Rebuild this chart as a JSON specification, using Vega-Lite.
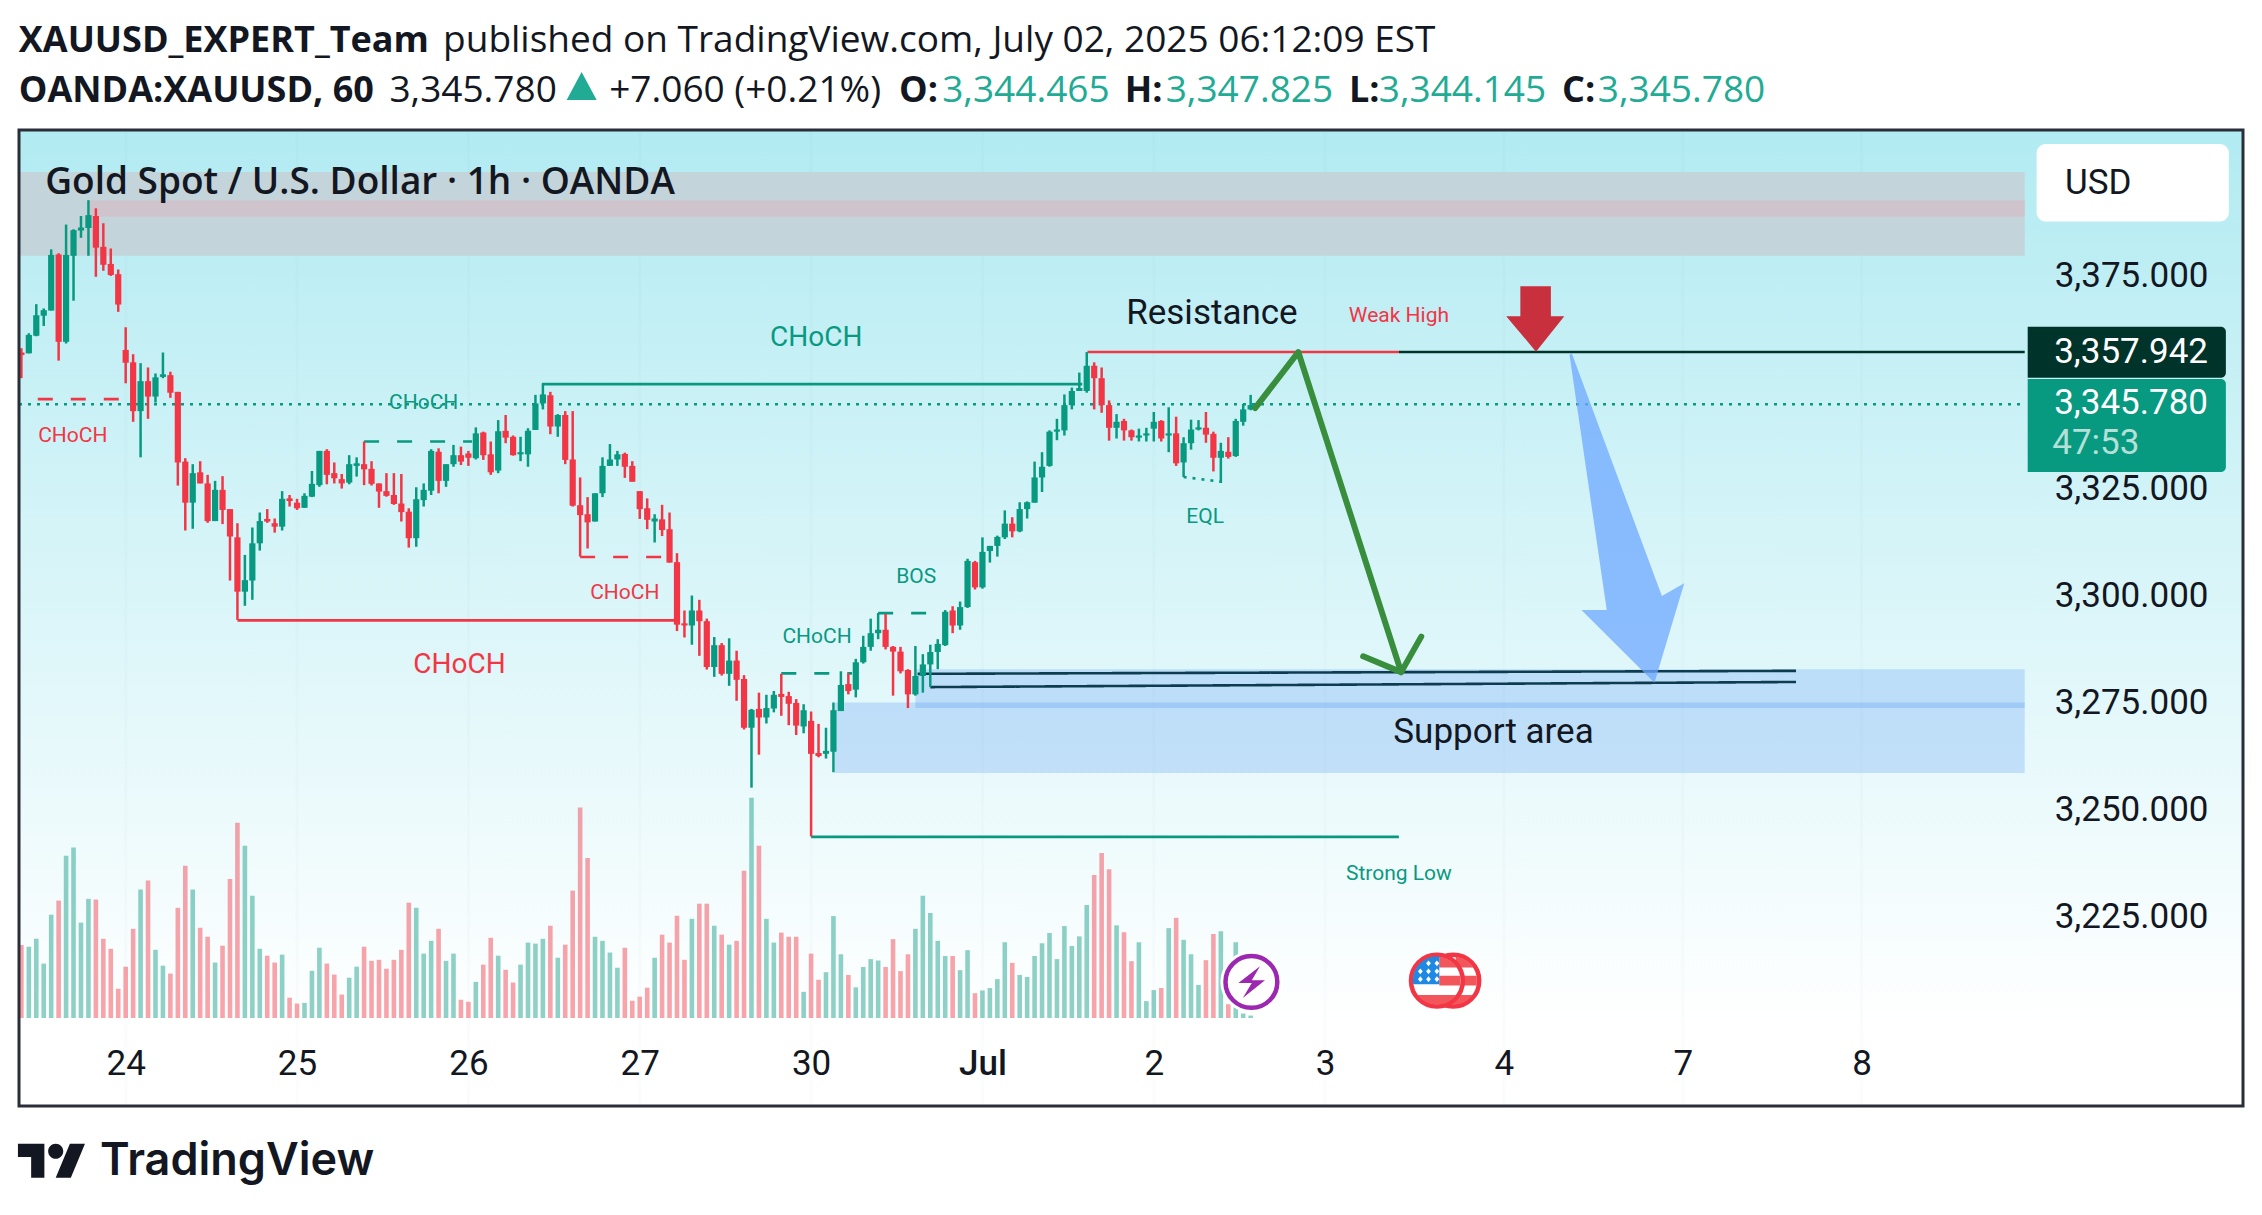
{"$schema":"https://vega.github.io/schema/vega-lite/v6.json","width":2224,"height":976,"autosize":{"type":"none"},"padding":{"left":19,"top":130,"right":19,"bottom":109},"background":"#ffffff","config":{"view":{"stroke":null},"scale":{"continuousPadding":0}},
"datasets":{
"pane":[{"a":-0.32,"b":298.2,"lo":3180.8,"hi":3408.9}],
"days":[{"i":14},{"i":37},{"i":60},{"i":83},{"i":106},{"i":129},{"i":152},{"i":175},{"i":199},{"i":223},{"i":247}],
"zones":[{"z":"gray","a":-0.32,"b":268.9,"lo":3379.5,"hi":3399.1},{"z":"pink","a":9.1,"b":268.9,"lo":3388.6,"hi":3392.5}],
"support":[{"a":109.2,"b":268.9,"lo":3258.6,"hi":3275.1},{"a":120,"b":268.9,"lo":3273.8,"hi":3282.9}],
"segs":[{"s":"greenSolid","a":69.9,"b":142.4,"p":3349.5,"q":3349.5},{"s":"greenSolid","a":106,"b":184.9,"p":3243.7,"q":3243.7},{"s":"greenDash","a":46,"b":60.5,"p":3336.1,"q":3336.1},{"s":"greenDash","a":102,"b":111.5,"p":3281.9,"q":3281.9},{"s":"greenDash","a":115,"b":124,"p":3296,"q":3296},{"s":"greenDot","a":156,"b":161,"p":3327.8,"q":3326.7},{"s":"greenDot","a":-0.32,"b":268.9,"p":3344.8,"q":3344.8},{"s":"redSolid","a":29,"b":88,"p":3294.3,"q":3294.3},{"s":"redSolid","a":143.1,"b":184.9,"p":3357.0,"q":3357.0},{"s":"redDash","a":2.2,"b":14,"p":3346,"q":3346},{"s":"redDash","a":75,"b":86.5,"p":3309.1,"q":3309.1},{"s":"black","a":184.9,"b":268.9,"p":3357.0,"q":3357.0},{"s":"navy","a":120.3,"b":238.2,"p":3281.8,"q":3282.5},{"s":"navy","a":122,"b":238.2,"p":3278.7,"q":3279.9}],
"bars":[
{"i":0,"d":"down","o":3356.9,"h":3357.9,"l":3350.9,"c":3356.3,"v":212},{"i":1,"d":"up","o":3356.7,"h":3361.4,"l":3356.7,"c":3361.0,"v":207},{"i":2,"d":"up","o":3360.8,"h":3368.2,"l":3360.7,"c":3365.6,"v":230},{"i":3,"d":"up","o":3365.5,"h":3367.2,"l":3363.1,"c":3366.8,"v":158},{"i":4,"d":"up","o":3366.7,"h":3381.0,"l":3366.7,"c":3379.7,"v":300},{"i":5,"d":"down","o":3379.8,"h":3380.1,"l":3355.0,"c":3359.4,"v":341},{"i":6,"d":"up","o":3359.4,"h":3386.8,"l":3359.0,"c":3379.7,"v":471},{"i":7,"d":"up","o":3379.5,"h":3385.7,"l":3369.0,"c":3385.5,"v":495},{"i":8,"d":"up","o":3385.4,"h":3388.8,"l":3383.7,"c":3386.1,"v":277},{"i":9,"d":"up","o":3386.0,"h":3392.5,"l":3379.5,"c":3389.0,"v":346},
{"i":10,"d":"down","o":3388.8,"h":3390.6,"l":3374.6,"c":3381.4,"v":344},{"i":11,"d":"down","o":3381.6,"h":3387.1,"l":3376.0,"c":3377.4,"v":230},{"i":12,"d":"down","o":3377.6,"h":3381.2,"l":3374.8,"c":3375.0,"v":201},{"i":13,"d":"down","o":3375.2,"h":3376.3,"l":3366.4,"c":3368.1,"v":85},{"i":14,"d":"down","o":3357.5,"h":3362.8,"l":3349.7,"c":3354.5,"v":149},{"i":15,"d":"down","o":3354.6,"h":3356.5,"l":3340.7,"c":3343.2,"v":259},{"i":16,"d":"up","o":3343.2,"h":3354.4,"l":3332.4,"c":3350.2,"v":373},{"i":17,"d":"down","o":3350.2,"h":3353.4,"l":3341.4,"c":3346.6,"v":399},{"i":18,"d":"up","o":3346.6,"h":3352.0,"l":3345.2,"c":3351.1,"v":198},{"i":19,"d":"up","o":3351.2,"h":3356.9,"l":3350.9,"c":3351.8,"v":152},
{"i":20,"d":"down","o":3351.6,"h":3352.4,"l":3346.3,"c":3347.5,"v":129},{"i":21,"d":"down","o":3347.7,"h":3347.7,"l":3325.8,"c":3331.2,"v":320},{"i":22,"d":"down","o":3331.4,"h":3332.2,"l":3315.3,"c":3321.8,"v":442},{"i":23,"d":"up","o":3321.8,"h":3330.8,"l":3315.7,"c":3328.7,"v":373},{"i":24,"d":"down","o":3328.9,"h":3331.5,"l":3326.3,"c":3326.3,"v":262},{"i":25,"d":"down","o":3326.3,"h":3328.3,"l":3317.1,"c":3317.5,"v":236},{"i":26,"d":"up","o":3317.5,"h":3326.9,"l":3317.5,"c":3324.8,"v":161},{"i":27,"d":"down","o":3324.8,"h":3328.0,"l":3316.8,"c":3320.1,"v":210},{"i":28,"d":"down","o":3320.3,"h":3320.3,"l":3303.6,"c":3313.9,"v":404},{"i":29,"d":"down","o":3313.7,"h":3317.0,"l":3294.4,"c":3301.0,"v":567},
{"i":30,"d":"up","o":3301.0,"h":3309.6,"l":3297.7,"c":3303.7,"v":500},{"i":31,"d":"up","o":3303.6,"h":3316.0,"l":3299.1,"c":3312.3,"v":355},{"i":32,"d":"up","o":3312.3,"h":3319.5,"l":3310.6,"c":3317.5,"v":201},{"i":33,"d":"down","o":3318.0,"h":3320.3,"l":3317.1,"c":3317.4,"v":181},{"i":34,"d":"down","o":3317.0,"h":3318.1,"l":3314.8,"c":3316.2,"v":161},{"i":35,"d":"up","o":3316.2,"h":3324.5,"l":3315.3,"c":3322.7,"v":184},{"i":36,"d":"down","o":3322.8,"h":3323.6,"l":3320.9,"c":3322.2,"v":59},{"i":37,"d":"down","o":3321.8,"h":3322.7,"l":3320.1,"c":3320.5,"v":42},{"i":38,"d":"up","o":3320.6,"h":3324.0,"l":3320.6,"c":3323.4,"v":44},{"i":39,"d":"up","o":3323.2,"h":3329.2,"l":3323.1,"c":3326.2,"v":137},
{"i":40,"d":"up","o":3325.9,"h":3333.9,"l":3325.5,"c":3333.9,"v":204},{"i":41,"d":"down","o":3333.9,"h":3334.3,"l":3326.1,"c":3328.3,"v":158},{"i":42,"d":"down","o":3328.7,"h":3331.2,"l":3326.3,"c":3327.5,"v":126},{"i":43,"d":"down","o":3327.3,"h":3328.5,"l":3325.1,"c":3326.3,"v":68},{"i":44,"d":"up","o":3326.5,"h":3332.9,"l":3326.1,"c":3330.8,"v":117},{"i":45,"d":"up","o":3330.4,"h":3332.4,"l":3327.9,"c":3331.0,"v":149},{"i":46,"d":"down","o":3330.8,"h":3336.1,"l":3325.9,"c":3329.6,"v":207},{"i":47,"d":"down","o":3329.7,"h":3331.5,"l":3325.8,"c":3326.2,"v":166},{"i":48,"d":"down","o":3326.3,"h":3326.3,"l":3320.6,"c":3324.4,"v":169},{"i":49,"d":"down","o":3324.5,"h":3328.7,"l":3323.2,"c":3323.4,"v":143},
{"i":50,"d":"down","o":3323.6,"h":3328.7,"l":3321.3,"c":3321.5,"v":169},{"i":51,"d":"down","o":3321.6,"h":3328.5,"l":3317.4,"c":3319.6,"v":198},{"i":52,"d":"down","o":3319.7,"h":3320.5,"l":3311.3,"c":3313.5,"v":335},{"i":53,"d":"up","o":3313.5,"h":3325.4,"l":3311.5,"c":3322.6,"v":320},{"i":54,"d":"up","o":3322.4,"h":3326.3,"l":3320.9,"c":3324.8,"v":187},{"i":55,"d":"up","o":3324.6,"h":3334.3,"l":3323.6,"c":3333.9,"v":224},{"i":56,"d":"down","o":3333.7,"h":3334.5,"l":3324.0,"c":3326.9,"v":259},{"i":57,"d":"up","o":3326.9,"h":3330.8,"l":3325.5,"c":3330.8,"v":166},{"i":58,"d":"up","o":3330.8,"h":3335.3,"l":3330.2,"c":3332.9,"v":187},{"i":59,"d":"down","o":3332.9,"h":3334.9,"l":3330.6,"c":3331.4,"v":53},
{"i":60,"d":"down","o":3333.3,"h":3333.9,"l":3330.4,"c":3332.3,"v":47},{"i":61,"d":"up","o":3332.2,"h":3339.4,"l":3331.9,"c":3338.0,"v":105},{"i":62,"d":"down","o":3338.2,"h":3338.4,"l":3331.8,"c":3332.9,"v":155},{"i":63,"d":"down","o":3333.1,"h":3336.1,"l":3328.3,"c":3328.9,"v":233},{"i":64,"d":"up","o":3329.3,"h":3341.1,"l":3328.7,"c":3338.5,"v":181},{"i":65,"d":"down","o":3338.6,"h":3342.3,"l":3335.7,"c":3337.0,"v":140},{"i":66,"d":"down","o":3337.2,"h":3337.5,"l":3332.8,"c":3332.9,"v":103},{"i":67,"d":"up","o":3333.1,"h":3337.2,"l":3331.5,"c":3333.6,"v":155},{"i":68,"d":"up","o":3333.1,"h":3339.2,"l":3330.2,"c":3338.6,"v":219},{"i":69,"d":"up","o":3338.8,"h":3347.0,"l":3338.8,"c":3345.0,"v":216},
{"i":70,"d":"up","o":3345.0,"h":3349.7,"l":3343.6,"c":3347.1,"v":230},{"i":71,"d":"down","o":3346.9,"h":3347.7,"l":3337.8,"c":3339.6,"v":268},{"i":72,"d":"up","o":3339.6,"h":3342.5,"l":3337.2,"c":3342.3,"v":175},{"i":73,"d":"down","o":3342.3,"h":3343.2,"l":3330.8,"c":3331.8,"v":213},{"i":74,"d":"down","o":3331.9,"h":3343.2,"l":3320.9,"c":3321.1,"v":370},{"i":75,"d":"down","o":3321.2,"h":3327.7,"l":3309.2,"c":3318.9,"v":611},{"i":76,"d":"down","o":3319.1,"h":3323.1,"l":3311.1,"c":3317.2,"v":465},{"i":77,"d":"up","o":3317.4,"h":3324.0,"l":3317.4,"c":3324.0,"v":236},{"i":78,"d":"up","o":3324.0,"h":3332.4,"l":3323.1,"c":3330.4,"v":224},{"i":79,"d":"up","o":3330.4,"h":3335.5,"l":3330.4,"c":3331.9,"v":190},
{"i":80,"d":"up","o":3331.9,"h":3333.9,"l":3330.4,"c":3333.1,"v":146},{"i":81,"d":"down","o":3333.2,"h":3333.5,"l":3327.6,"c":3330.2,"v":204},{"i":82,"d":"down","o":3330.4,"h":3331.5,"l":3326.7,"c":3326.7,"v":50},{"i":83,"d":"down","o":3324.5,"h":3324.5,"l":3318.0,"c":3320.3,"v":62},{"i":84,"d":"down","o":3320.5,"h":3322.8,"l":3315.6,"c":3317.8,"v":88},{"i":85,"d":"up","o":3317.4,"h":3319.1,"l":3312.5,"c":3318.1,"v":175},{"i":86,"d":"down","o":3317.9,"h":3321.3,"l":3314.0,"c":3315.4,"v":242},{"i":87,"d":"down","o":3315.6,"h":3319.5,"l":3307.8,"c":3307.8,"v":219},{"i":88,"d":"down","o":3307.9,"h":3310.0,"l":3291.8,"c":3293.3,"v":297},{"i":89,"d":"down","o":3293.6,"h":3296.6,"l":3290.3,"c":3293.1,"v":169},
{"i":90,"d":"up","o":3293.1,"h":3300.1,"l":3288.6,"c":3296.6,"v":288},{"i":91,"d":"down","o":3296.6,"h":3299.1,"l":3286.0,"c":3294.1,"v":332},{"i":92,"d":"down","o":3294.1,"h":3294.7,"l":3282.8,"c":3283.4,"v":332},{"i":93,"d":"up","o":3283.4,"h":3290.4,"l":3281.1,"c":3288.5,"v":268},{"i":94,"d":"down","o":3288.5,"h":3289.0,"l":3281.4,"c":3281.8,"v":242},{"i":95,"d":"up","o":3281.8,"h":3290.1,"l":3279.0,"c":3284.9,"v":213},{"i":96,"d":"down","o":3284.9,"h":3287.2,"l":3275.5,"c":3280.4,"v":224},{"i":97,"d":"down","o":3280.6,"h":3281.5,"l":3268.8,"c":3269.2,"v":428},{"i":98,"d":"up","o":3269.2,"h":3273.6,"l":3255.2,"c":3273.4,"v":640},{"i":99,"d":"down","o":3273.6,"h":3277.4,"l":3262.9,"c":3271.6,"v":500},
{"i":100,"d":"up","o":3271.6,"h":3276.9,"l":3270.2,"c":3273.8,"v":288},{"i":101,"d":"up","o":3273.7,"h":3277.8,"l":3272.8,"c":3276.9,"v":219},{"i":102,"d":"down","o":3277.1,"h":3281.8,"l":3272.0,"c":3276.4,"v":248},{"i":103,"d":"down","o":3276.6,"h":3277.6,"l":3269.8,"c":3274.8,"v":236},{"i":104,"d":"down","o":3275.0,"h":3275.9,"l":3267.5,"c":3269.7,"v":236},{"i":105,"d":"up","o":3269.5,"h":3274.7,"l":3267.9,"c":3273.3,"v":76},{"i":106,"d":"down","o":3270.8,"h":3273.0,"l":3243.8,"c":3263.1,"v":187},{"i":107,"d":"down","o":3263.3,"h":3270.1,"l":3262.3,"c":3262.6,"v":111},{"i":108,"d":"up","o":3263.1,"h":3269.2,"l":3262.0,"c":3263.8,"v":133},{"i":109,"d":"up","o":3263.6,"h":3275.1,"l":3258.8,"c":3273.3,"v":296},
{"i":110,"d":"up","o":3273.1,"h":3282.4,"l":3273.1,"c":3279.2,"v":185},{"i":111,"d":"down","o":3279.4,"h":3281.9,"l":3277.0,"c":3277.8,"v":125},{"i":112,"d":"up","o":3278.1,"h":3285.3,"l":3276.3,"c":3284.5,"v":89},{"i":113,"d":"up","o":3284.5,"h":3290.7,"l":3284.2,"c":3288.1,"v":148},{"i":114,"d":"up","o":3288.1,"h":3294.7,"l":3287.2,"c":3291.3,"v":171},{"i":115,"d":"up","o":3291.3,"h":3296.0,"l":3289.9,"c":3292.1,"v":167},{"i":116,"d":"down","o":3292.1,"h":3295.8,"l":3287.5,"c":3288.1,"v":148},{"i":117,"d":"down","o":3288.1,"h":3288.3,"l":3276.7,"c":3287.0,"v":229},{"i":118,"d":"down","o":3287.0,"h":3288.1,"l":3281.9,"c":3282.4,"v":136},{"i":119,"d":"down","o":3282.7,"h":3282.9,"l":3273.8,"c":3277.0,"v":185},
{"i":120,"d":"up","o":3277.0,"h":3288.3,"l":3276.7,"c":3281.3,"v":259},{"i":121,"d":"up","o":3281.3,"h":3286.4,"l":3277.4,"c":3284.0,"v":355},{"i":122,"d":"up","o":3284.0,"h":3288.6,"l":3278.7,"c":3286.9,"v":305},{"i":123,"d":"up","o":3286.9,"h":3289.9,"l":3282.9,"c":3288.8,"v":224},{"i":124,"d":"up","o":3288.5,"h":3296.7,"l":3288.3,"c":3296.3,"v":180},{"i":125,"d":"down","o":3296.6,"h":3297.6,"l":3291.3,"c":3293.1,"v":180},{"i":126,"d":"up","o":3293.1,"h":3298.7,"l":3292.1,"c":3297.4,"v":139},{"i":127,"d":"up","o":3297.4,"h":3308.7,"l":3297.2,"c":3308.2,"v":197},{"i":128,"d":"down","o":3307.9,"h":3308.2,"l":3301.5,"c":3302.0,"v":72},{"i":129,"d":"up","o":3302.0,"h":3313.7,"l":3301.7,"c":3310.3,"v":80},
{"i":130,"d":"up","o":3310.5,"h":3311.7,"l":3307.8,"c":3311.7,"v":87},{"i":131,"d":"up","o":3311.7,"h":3314.1,"l":3309.2,"c":3313.8,"v":113},{"i":132,"d":"up","o":3313.7,"h":3320.0,"l":3313.3,"c":3316.9,"v":220},{"i":133,"d":"down","o":3316.9,"h":3318.4,"l":3313.7,"c":3315.1,"v":160},{"i":134,"d":"up","o":3315.1,"h":3321.9,"l":3314.9,"c":3320.3,"v":125},{"i":135,"d":"up","o":3320.3,"h":3322.1,"l":3318.1,"c":3321.9,"v":119},{"i":136,"d":"up","o":3321.8,"h":3331.4,"l":3321.8,"c":3327.7,"v":180},{"i":137,"d":"up","o":3327.7,"h":3333.6,"l":3324.3,"c":3330.2,"v":217},{"i":138,"d":"up","o":3330.4,"h":3338.7,"l":3330.2,"c":3338.4,"v":247},{"i":139,"d":"up","o":3338.4,"h":3341.4,"l":3336.4,"c":3338.9,"v":171},
{"i":140,"d":"up","o":3338.7,"h":3347.1,"l":3337.5,"c":3344.6,"v":267},{"i":141,"d":"up","o":3344.6,"h":3348.7,"l":3343.6,"c":3347.9,"v":209},{"i":142,"d":"up","o":3347.9,"h":3352.2,"l":3347.9,"c":3348.6,"v":237},{"i":143,"d":"up","o":3347.9,"h":3357.0,"l":3347.5,"c":3353.8,"v":328},{"i":144,"d":"down","o":3353.8,"h":3354.6,"l":3343.6,"c":3350.9,"v":415},{"i":145,"d":"down","o":3350.9,"h":3353.4,"l":3342.8,"c":3344.6,"v":479},{"i":146,"d":"down","o":3344.6,"h":3345.7,"l":3336.3,"c":3339.3,"v":432},{"i":147,"d":"up","o":3339.3,"h":3342.5,"l":3336.8,"c":3340.7,"v":269},{"i":148,"d":"down","o":3340.9,"h":3341.4,"l":3336.3,"c":3338.7,"v":249},{"i":149,"d":"down","o":3338.7,"h":3338.9,"l":3336.3,"c":3337.1,"v":165},
{"i":150,"d":"up","o":3337.0,"h":3339.1,"l":3336.1,"c":3337.5,"v":220},{"i":151,"d":"up","o":3337.5,"h":3339.3,"l":3336.1,"c":3338.0,"v":49},{"i":152,"d":"up","o":3339.1,"h":3343.0,"l":3336.1,"c":3340.7,"v":81},{"i":153,"d":"down","o":3340.9,"h":3341.1,"l":3336.1,"c":3336.8,"v":87},{"i":154,"d":"up","o":3337.5,"h":3344.1,"l":3333.6,"c":3338.0,"v":261},{"i":155,"d":"down","o":3338.0,"h":3341.9,"l":3330.4,"c":3331.0,"v":291},{"i":156,"d":"up","o":3331.2,"h":3337.1,"l":3327.8,"c":3335.7,"v":227},{"i":157,"d":"up","o":3335.7,"h":3341.2,"l":3334.2,"c":3338.9,"v":185},{"i":158,"d":"up","o":3338.9,"h":3341.1,"l":3338.7,"c":3339.4,"v":96},{"i":159,"d":"down","o":3339.3,"h":3343.0,"l":3335.8,"c":3337.7,"v":168},
{"i":160,"d":"down","o":3337.9,"h":3338.4,"l":3329.1,"c":3332.3,"v":244},{"i":161,"d":"up","o":3332.3,"h":3335.8,"l":3326.4,"c":3333.9,"v":252},{"i":162,"d":"down","o":3333.7,"h":3337.1,"l":3332.1,"c":3332.5,"v":40},{"i":163,"d":"up","o":3332.7,"h":3341.4,"l":3332.5,"c":3340.9,"v":220},{"i":164,"d":"up","o":3340.7,"h":3344.9,"l":3339.8,"c":3343.6,"v":13},{"i":165,"d":"up","o":3343.6,"h":3347.0,"l":3343.4,"c":3344.6,"v":7}],
"greenPath":[{"leg":"a","n":1,"x":165.6,"y":3343.9},{"leg":"a","n":2,"x":171.4,"y":3357},{"leg":"a","n":3,"x":185.2,"y":3282.2},{"leg":"b","n":1,"x":180.1,"y":3285.9},{"leg":"b","n":2,"x":185.2,"y":3282.2},{"leg":"b","n":3,"x":187.9,"y":3290.5}],
"blueArrow":[{"n":1,"x":208.1,"y":3356.7},{"n":2,"x":220.2,"y":3300},{"n":3,"x":223.2,"y":3303},{"n":4,"x":219.2,"y":3279.7},{"n":5,"x":209.4,"y":3296.7},{"n":6,"x":212.8,"y":3296.7},{"n":7,"x":207.8,"y":3356.3}],
"redArrow":[{"n":1,"x":201.2,"y":3372.4},{"n":2,"x":205.3,"y":3372.4},{"n":3,"x":205.3,"y":3365.4},{"n":4,"x":207.1,"y":3365.4},{"n":5,"x":203.3,"y":3357.1},{"n":6,"x":199.3,"y":3365.4},{"n":7,"x":201.2,"y":3365.4}],
"small":[{"t":"CHoCH","c":"r","x":6.9,"y":3337.3},{"t":"CHoCH","c":"g","x":54,"y":3345.0},{"t":"CHoCH","c":"r","x":81,"y":3300.7},{"t":"CHoCH","c":"g","x":106.8,"y":3290.4},{"t":"BOS","c":"g","x":120.1,"y":3304.4},{"t":"EQL","c":"g","x":158.9,"y":3318.4},{"t":"Strong Low","c":"g","x":184.9,"y":3235.0},{"t":"Weak High","c":"r","x":184.9,"y":3365.5}],
"mid":[{"t":"CHoCH","c":"g","x":106.7,"y":3360.2},{"t":"CHoCH","c":"r","x":58.8,"y":3283.9}],
"big":[{"t":"Resistance","x":159.8,"y":3366.1},{"t":"Support area","x":197.6,"y":3268.2}],
"tagBoxes":[{"k":"dark","a":269.3,"b":295.9,"lo":3351,"hi":3362.9},{"k":"green","a":269.3,"b":295.9,"lo":3329,"hi":3350.7}],
"usdBox":[{"a":270.5,"b":296.3,"lo":3387.5,"hi":3405.6}],
"tagText":[{"t":"3,357.942","x":293.5,"y":3357.0},{"t":"3,345.780","x":293.5,"y":3345.2}],
"headBold":[{"t":"XAUUSD_EXPERT_Team","x":-0.35,"y":3429.8},{"t":"OANDA:XAUUSD, 60","x":-0.35,"y":3418.0},{"t":"O:","x":117.8,"y":3418.0},{"t":"H:","x":148.1,"y":3418.0},{"t":"L:","x":178.2,"y":3418.0},{"t":"C:","x":206.8,"y":3418.0}],
"headPlain":[{"t":"published on TradingView.com, July 02, 2025 06:12:09 EST","x":56.6,"y":3429.8,"c":"ink"},{"t":"3,345.780","x":49.4,"y":3418.0,"c":"ink"},{"t":"+7.060 (+0.21%)","x":78.9,"y":3418.0,"c":"ink"},{"t":"3,344.465","x":123.6,"y":3418.0,"c":"teal"},{"t":"3,347.825","x":153.6,"y":3418.0,"c":"teal"},{"t":"3,344.145","x":182.2,"y":3418.0,"c":"teal"},{"t":"3,345.780","x":211.6,"y":3418.0,"c":"teal"}]
},
"resolve":{"scale":{"y":"independent","color":"independent","strokeDash":"independent"},"axis":{"x":"independent"}},
"layer":[
{"data":{"name":"pane"},"mark":{"type":"rect","fill":{"x1":0,"y1":0,"x2":0,"y2":1,"gradient":"linear","stops":[{"offset":0,"color":"#b2ebf2"},{"offset":0.92,"color":"#ffffff"},{"offset":1,"color":"#ffffff"}]}},
"encoding":{"x":{"field":"a","type":"quantitative","scale":{"domain":[-0.32,298.2],"nice":false,"zero":false},"title":null,"axis":{"values":[14,37,60,83,106,129,152,175,199,223,247],"labelExpr":"{'14':'24','37':'25','60':'26','83':'27','106':'30','129':'Jul','152':'2','175':'3','199':'4','223':'7','247':'8'}[datum.value]","labelFont":"Roboto","labelFontSize":35,"labelColor":"#131722","labelFontWeight":{"condition":{"test":"datum.value==129","value":500},"value":400},"labelBaseline":"middle","labelPadding":0,"offset":-43,"ticks":false,"domain":false,"grid":false,"title":null,"labelOverlap":false,"labelBound":false,"labelFlush":false,"zindex":1}},"x2":{"field":"b"},
"y":{"field":"lo","type":"quantitative","scale":{"domain":[3180.8,3408.9],"nice":false,"zero":false},"axis":{"orient":"right","values":[3225,3250,3275,3300,3325,3375],"format":",.3f","labelFont":"Roboto","labelFontSize":35,"labelColor":"#131722","labelAlign":"right","labelBaseline":"middle","labelPadding":0,"offset":-35,"ticks":false,"domain":false,"grid":false,"title":null,"labelOverlap":false,"labelBound":false,"labelFlush":false,"zindex":1}},"y2":{"field":"hi"}}},
{"data":{"name":"days"},"mark":{"type":"rule","stroke":"#5a7f8a","strokeWidth":3,"opacity":0.025},"encoding":{"x":{"field":"i","type":"quantitative","axis":null}}},
{"data":{"name":"zones"},"mark":{"type":"rect"},"encoding":{"x":{"field":"a","type":"quantitative","axis":null},"x2":{"field":"b"},"y":{"field":"lo","type":"quantitative","scale":{"domain":[3180.8,3408.9],"nice":false,"zero":false},"axis":null},"y2":{"field":"hi"},"color":{"field":"z","type":"nominal","scale":{"domain":["gray","pink"],"range":["#c3d5da","#d0c4cc"]},"legend":null}}},
{"data":{"name":"support"},"mark":{"type":"rect","color":"#3f8cf0","opacity":0.23},"encoding":{"x":{"field":"a","type":"quantitative","axis":null},"x2":{"field":"b"},"y":{"field":"lo","type":"quantitative","scale":{"domain":[3180.8,3408.9],"nice":false,"zero":false},"axis":null},"y2":{"field":"hi"}}},
{"data":{"name":"segs"},"mark":{"type":"rule","strokeWidth":2.6},"encoding":{"x":{"field":"a","type":"quantitative","axis":null},"x2":{"field":"b"},"y":{"field":"p","type":"quantitative","scale":{"domain":[3180.8,3408.9],"nice":false,"zero":false},"axis":null},"y2":{"field":"q"},"color":{"field":"s","type":"nominal","scale":{"domain":["greenSolid","greenDash","greenDot","redSolid","redDash","black","navy"],"range":["#089981","#089981","#089981","#f23645","#f23645","#00332a","#0d3b4f"]},"legend":null},"strokeDash":{"field":"s","type":"nominal","scale":{"domain":["greenSolid","greenDash","greenDot","redSolid","redDash","black","navy"],"range":[[1,0],[15,18],[3,6],[1,0],[15,18],[1,0],[1,0]]},"legend":null}}},
{"data":{"name":"bars"},"mark":{"type":"bar","size":4.6,"opacity":0.45,"orient":"vertical"},"encoding":{"x":{"field":"i","type":"quantitative","axis":null},"y":{"field":"v","type":"quantitative","stack":null,"scale":{"domain":[-255.6,2579],"nice":false,"zero":false},"axis":null},"color":{"field":"d","type":"nominal","scale":{"domain":["up","down"],"range":["#089981","#f23645"]},"legend":null}}},
{"data":{"name":"bars"},"mark":{"type":"rule","strokeWidth":2.5},"encoding":{"x":{"field":"i","type":"quantitative","axis":null},"y":{"field":"l","type":"quantitative","scale":{"domain":[3180.8,3408.9],"nice":false,"zero":false},"axis":null},"y2":{"field":"h"},"color":{"field":"d","type":"nominal","scale":{"domain":["up","down"],"range":["#089981","#f23645"]},"legend":null}}},
{"data":{"name":"bars"},"mark":{"type":"bar","size":6.2,"orient":"vertical"},"encoding":{"x":{"field":"i","type":"quantitative","axis":null},"y":{"field":"o","type":"quantitative","stack":null,"scale":{"domain":[3180.8,3408.9],"nice":false,"zero":false},"axis":null},"y2":{"field":"c"},"color":{"field":"d","type":"nominal","scale":{"domain":["up","down"],"range":["#089981","#f23645"]},"legend":null}}},
{"data":{"name":"small"},"mark":{"type":"text","font":"Roboto","fontSize":21,"align":"center","baseline":"middle"},"encoding":{"x":{"field":"x","type":"quantitative","axis":null},"y":{"field":"y","type":"quantitative","scale":{"domain":[3180.8,3408.9],"nice":false,"zero":false},"axis":null},"text":{"field":"t"},"color":{"field":"c","type":"nominal","scale":{"domain":["g","r"],"range":["#089981","#f23645"]},"legend":null}}},
{"data":{"name":"mid"},"mark":{"type":"text","font":"Roboto","fontSize":28,"align":"center","baseline":"middle"},"encoding":{"x":{"field":"x","type":"quantitative","axis":null},"y":{"field":"y","type":"quantitative","scale":{"domain":[3180.8,3408.9],"nice":false,"zero":false},"axis":null},"text":{"field":"t"},"color":{"field":"c","type":"nominal","scale":{"domain":["g","r"],"range":["#089981","#f23645"]},"legend":null}}},
{"data":{"name":"big"},"mark":{"type":"text","font":"Roboto","fontSize":35,"align":"center","baseline":"middle","color":"#131722"},"encoding":{"x":{"field":"x","type":"quantitative","axis":null},"y":{"field":"y","type":"quantitative","scale":{"domain":[3180.8,3408.9],"nice":false,"zero":false},"axis":null},"text":{"field":"t"}}},
{"data":{"name":"blueArrow"},"mark":{"type":"line","interpolate":"linear-closed","fill":"#6ea8ff","fillOpacity":0.75,"stroke":null},"encoding":{"x":{"field":"x","type":"quantitative","axis":null},"y":{"field":"y","type":"quantitative","scale":{"domain":[3180.8,3408.9],"nice":false,"zero":false},"axis":null},"order":{"field":"n"}}},
{"data":{"name":"redArrow"},"mark":{"type":"line","interpolate":"linear-closed","fill":"#c9303e","stroke":null},"encoding":{"x":{"field":"x","type":"quantitative","axis":null},"y":{"field":"y","type":"quantitative","scale":{"domain":[3180.8,3408.9],"nice":false,"zero":false},"axis":null},"order":{"field":"n"}}},
{"data":{"name":"greenPath"},"mark":{"type":"line","stroke":"#388e3c","strokeWidth":6,"strokeCap":"round","strokeJoin":"round"},"encoding":{"x":{"field":"x","type":"quantitative","axis":null},"y":{"field":"y","type":"quantitative","scale":{"domain":[3180.8,3408.9],"nice":false,"zero":false},"axis":null},"order":{"field":"n"},"detail":{"field":"leg"}}},
{"data":{"values":[{"x":165.1,"y":3209.8}]},"mark":{"type":"point","shape":"circle","filled":true,"color":"#ffffff","size":3848,"opacity":1},"encoding":{"x":{"field":"x","type":"quantitative","axis":null},"y":{"field":"y","type":"quantitative","scale":{"domain":[3180.8,3408.9],"nice":false,"zero":false},"axis":null}}},
{"data":{"values":[{"x":165.1,"y":3209.8}]},"mark":{"type":"point","shape":"circle","filled":true,"fill":"#ffffff","stroke":"#9c27b0","strokeWidth":4.5,"size":2688,"opacity":1},"encoding":{"x":{"field":"x","type":"quantitative","axis":null},"y":{"field":"y","type":"quantitative","scale":{"domain":[3180.8,3408.9],"nice":false,"zero":false},"axis":null}}},
{"data":{"values":[{"x":165.1,"y":3209.8}]},"mark":{"type":"point","shape":"M.43 -.78L-.65 .05L.02 .05L-.43 .8L.68 -.08L.02 -.08Z","filled":true,"color":"#9c27b0","size":1600,"opacity":1},"encoding":{"x":{"field":"x","type":"quantitative","axis":null},"y":{"field":"y","type":"quantitative","scale":{"domain":[3180.8,3408.9],"nice":false,"zero":false},"axis":null}}},
{"data":{"values":[{"x":192.2,"y":3210.1}]},"mark":{"type":"point","shape":"circle","filled":true,"fill":"#ffffff","stroke":"#f23645","strokeWidth":4.5,"size":2688,"opacity":1},"encoding":{"x":{"field":"x","type":"quantitative","axis":null},"y":{"field":"y","type":"quantitative","scale":{"domain":[3180.8,3408.9],"nice":false,"zero":false},"axis":null}}},
{"data":{"values":[{"x":192.2,"y":3210.1}]},"mark":{"type":"point","shape":"M.1 -1A1 1 0 0 1 .83 -.55L.1 -.55ZM.1 -.2H.98V.2H.1ZM-.8 .6H.8A1 1 0 0 1 -.8 .6Z","filled":true,"color":"#f2555a","size":2304,"opacity":1},"encoding":{"x":{"field":"x","type":"quantitative","axis":null},"y":{"field":"y","type":"quantitative","scale":{"domain":[3180.8,3408.9],"nice":false,"zero":false},"axis":null}}},
{"data":{"values":[{"x":190,"y":3210.1}]},"mark":{"type":"point","shape":"circle","filled":true,"fill":"#ffffff","stroke":"#f23645","strokeWidth":4.5,"size":2688,"opacity":1},"encoding":{"x":{"field":"x","type":"quantitative","axis":null},"y":{"field":"y","type":"quantitative","scale":{"domain":[3180.8,3408.9],"nice":false,"zero":false},"axis":null}}},
{"data":{"values":[{"x":190,"y":3210.1}]},"mark":{"type":"point","shape":"M.1 -1A1 1 0 0 1 .83 -.55L.1 -.55ZM.1 -.2H.98V.2H.1ZM-.8 .6H.8A1 1 0 0 1 -.8 .6Z","filled":true,"color":"#f2555a","size":2304,"opacity":1},"encoding":{"x":{"field":"x","type":"quantitative","axis":null},"y":{"field":"y","type":"quantitative","scale":{"domain":[3180.8,3408.9],"nice":false,"zero":false},"axis":null}}},
{"data":{"values":[{"x":190,"y":3210.1}]},"mark":{"type":"point","shape":"M.1 -1L.1 .15L-.99 .15A1 1 0 0 1 .1 -1Z","filled":true,"color":"#1e88e5","size":2304,"opacity":1},"encoding":{"x":{"field":"x","type":"quantitative","axis":null},"y":{"field":"y","type":"quantitative","scale":{"domain":[3180.8,3408.9],"nice":false,"zero":false},"axis":null}}},
{"data":{"values":[{"x":190,"y":3210.1}]},"mark":{"type":"point","shape":"M-.35 -.84L-.25 -.72L-.35 -.6L-.45 -.72ZM0 -.84L.1 -.72L0 -.6L-.1 -.72ZM-.69 -.51L-.59 -.39L-.69 -.27L-.79 -.39ZM-.35 -.51L-.25 -.39L-.35 -.27L-.45 -.39ZM0 -.51L.1 -.39L0 -.27L-.1 -.39ZM-.69 -.18L-.59 -.06L-.69 .06L-.79 -.06ZM-.35 -.18L-.25 -.06L-.35 .06L-.45 -.06ZM0 -.18L.1 -.06L0 .06L-.1 -.06Z","filled":true,"color":"#ffffff","size":2304,"opacity":1},"encoding":{"x":{"field":"x","type":"quantitative","axis":null},"y":{"field":"y","type":"quantitative","scale":{"domain":[3180.8,3408.9],"nice":false,"zero":false},"axis":null}}},
{"data":{"name":"tagBoxes"},"mark":{"type":"rect","cornerRadiusTopRight":5,"cornerRadiusBottomRight":5},"encoding":{"x":{"field":"a","type":"quantitative","axis":null},"x2":{"field":"b"},"y":{"field":"lo","type":"quantitative","scale":{"domain":[3180.8,3408.9],"nice":false,"zero":false},"axis":null},"y2":{"field":"hi"},"color":{"field":"k","type":"nominal","scale":{"domain":["dark","green"],"range":["#00332a","#089981"]},"legend":null}}},
{"data":{"name":"usdBox"},"mark":{"type":"rect","cornerRadius":9,"color":"#ffffff"},"encoding":{"x":{"field":"a","type":"quantitative","axis":null},"x2":{"field":"b"},"y":{"field":"lo","type":"quantitative","scale":{"domain":[3180.8,3408.9],"nice":false,"zero":false},"axis":null},"y2":{"field":"hi"}}},
{"data":{"name":"tagText"},"mark":{"type":"text","font":"Roboto","fontSize":35,"align":"right","baseline":"middle","color":"#ffffff"},"encoding":{"x":{"field":"x","type":"quantitative","axis":null},"y":{"field":"y","type":"quantitative","scale":{"domain":[3180.8,3408.9],"nice":false,"zero":false},"axis":null},"text":{"field":"t"}}},
{"data":{"values":[{"t":"47:53","x":272.6,"y":3335.7}]},"mark":{"type":"text","font":"Roboto","fontSize":35,"align":"left","baseline":"middle","color":"#b5e0d8"},"encoding":{"x":{"field":"x","type":"quantitative","axis":null},"y":{"field":"y","type":"quantitative","scale":{"domain":[3180.8,3408.9],"nice":false,"zero":false},"axis":null},"text":{"field":"t"}}},
{"data":{"values":[{"t":"USD","x":274.3,"y":3396.5}]},"mark":{"type":"text","font":"Roboto","fontSize":35,"align":"left","baseline":"middle","color":"#131722"},"encoding":{"x":{"field":"x","type":"quantitative","axis":null},"y":{"field":"y","type":"quantitative","scale":{"domain":[3180.8,3408.9],"nice":false,"zero":false},"axis":null},"text":{"field":"t"}}},
{"data":{"values":[{"t":"Gold Spot / U.S. Dollar · 1h · OANDA","x":3.2,"y":3396.5}]},"mark":{"type":"text","font":"Open Sans","fontWeight":600,"fontSize":37,"align":"left","baseline":"middle","color":"#131722"},"encoding":{"x":{"field":"x","type":"quantitative","axis":null},"y":{"field":"y","type":"quantitative","scale":{"domain":[3180.8,3408.9],"nice":false,"zero":false},"axis":null},"text":{"field":"t"}}},
{"data":{"name":"headBold"},"mark":{"type":"text","font":"Open Sans","fontWeight":700,"fontSize":36,"align":"left","baseline":"middle","color":"#131722"},"encoding":{"x":{"field":"x","type":"quantitative","axis":null},"y":{"field":"y","type":"quantitative","scale":{"domain":[3180.8,3408.9],"nice":false,"zero":false},"axis":null},"text":{"field":"t"}}},
{"data":{"name":"headPlain"},"mark":{"type":"text","font":"Open Sans","fontSize":37,"align":"left","baseline":"middle"},"encoding":{"x":{"field":"x","type":"quantitative","axis":null},"y":{"field":"y","type":"quantitative","scale":{"domain":[3180.8,3408.9],"nice":false,"zero":false},"axis":null},"text":{"field":"t"},"color":{"field":"c","type":"nominal","scale":{"domain":["ink","teal"],"range":["#131722","#22ab94"]},"legend":null}}},
{"data":{"values":[{"x":75.2,"y":3419.2}]},"mark":{"type":"point","shape":"M0 -.93L1 .93H-1Z","filled":true,"color":"#22ab94","size":900,"opacity":1},"encoding":{"x":{"field":"x","type":"quantitative","axis":null},"y":{"field":"y","type":"quantitative","scale":{"domain":[3180.8,3408.9],"nice":false,"zero":false},"axis":null}}},
{"data":{"values":[{"x":4.1,"y":3168}]},"mark":{"type":"point","shape":"M-.222 .5H-.611V-.111H-1V-.5H-.222ZM.556 .5H.111L.528 -.5H.972ZM-.111 -.278a.222 .222 0 1 0 .444 0a.222 .222 0 1 0 -.444 0Z","filled":true,"color":"#131722","size":4624,"opacity":1},"encoding":{"x":{"field":"x","type":"quantitative","axis":null},"y":{"field":"y","type":"quantitative","scale":{"domain":[3180.8,3408.9],"nice":false,"zero":false},"axis":null}}},
{"data":{"values":[{"t":"TradingView","x":10.55,"y":3168}]},"mark":{"type":"text","font":"Inter","fontWeight":600,"fontSize":45,"align":"left","baseline":"middle","color":"#131722"},"encoding":{"x":{"field":"x","type":"quantitative","axis":null},"y":{"field":"y","type":"quantitative","scale":{"domain":[3180.8,3408.9],"nice":false,"zero":false},"axis":null},"text":{"field":"t"}}},
{"data":{"name":"pane"},"mark":{"type":"rect","fill":null,"stroke":"#2a2e39","strokeWidth":3},"encoding":{"x":{"field":"a","type":"quantitative","axis":null},"x2":{"field":"b"},"y":{"field":"lo","type":"quantitative","scale":{"domain":[3180.8,3408.9],"nice":false,"zero":false},"axis":null},"y2":{"field":"hi"}}}
]}
